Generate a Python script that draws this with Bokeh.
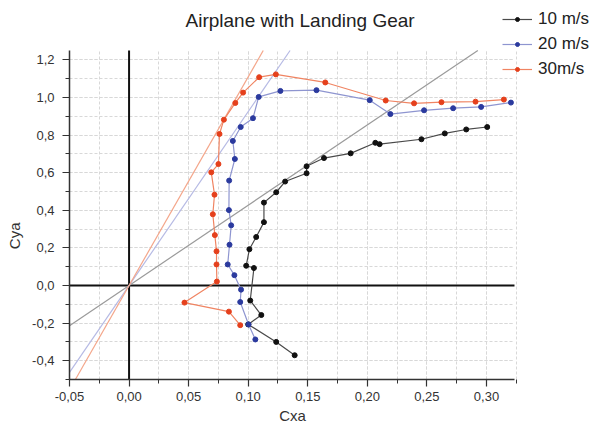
import numpy as np
from bokeh.plotting import figure
from bokeh.models import (FixedTicker, CustomJSTickFormatter, Legend, LegendItem,
                          Range1d, Label)
from bokeh.embed import file_html
from bokeh.resources import INLINE

# ---- data ----
cxa_10 = [0.139, 0.1235, 0.100, 0.111, 0.1017, 0.1048, 0.0983, 0.101, 0.1067, 0.1132,
          0.1132, 0.1235, 0.131, 0.149, 0.149, 0.1636, 0.186, 0.2067, 0.2103, 0.2454,
          0.265, 0.283, 0.3006]
cya_10 = [-0.371, -0.300, -0.207, -0.157, -0.080, 0.093, 0.105, 0.193, 0.258, 0.337,
          0.441, 0.496, 0.553, 0.597, 0.634, 0.678, 0.703, 0.759, 0.752, 0.778,
          0.809, 0.830, 0.843]

cxa_20 = [0.106, 0.1003, 0.0933, 0.094, 0.0884, 0.0828, 0.0843, 0.0857, 0.0838, 0.084,
          0.0888, 0.0871, 0.0937, 0.104, 0.1088, 0.127, 0.1573, 0.202, 0.2193, 0.2476,
          0.272, 0.2955, 0.3205]
cya_20 = [-0.287, -0.207, -0.088, -0.022, 0.055, 0.112, 0.217, 0.320, 0.401, 0.558,
          0.673, 0.769, 0.843, 0.890, 1.003, 1.035, 1.039, 0.986, 0.912, 0.932,
          0.943, 0.950, 0.973]

cxa_30 = [0.0933, 0.0838, 0.0465, 0.0737, 0.0734, 0.0734, 0.072, 0.0703, 0.0717, 0.069,
          0.075, 0.0759, 0.0796, 0.0892, 0.0957, 0.1092, 0.1232, 0.1647, 0.2154, 0.2392,
          0.2622, 0.2908, 0.3146]
cya_30 = [-0.211, -0.139, -0.091, 0.021, 0.112, 0.182, 0.268, 0.379, 0.483, 0.602,
          0.646, 0.806, 0.882, 0.971, 1.026, 1.108, 1.123, 1.080, 0.984, 0.969,
          0.975, 0.978, 0.989]

series_names = ["10 m/s", "20 m/s", "30m/s"]
tangent_slopes = [4.27, 9.25, 11.1]
title_text = "Airplane with Landing Gear"
x_label = "Cxa"
y_label = "Cya"

x_ticks = [-0.05, 0.0, 0.05, 0.10, 0.15, 0.20, 0.25, 0.30]
x_minor = [-0.05, -0.025, 0.0, 0.025, 0.05, 0.075, 0.10, 0.125, 0.15, 0.175, 0.20,
           0.225, 0.25, 0.275, 0.30, 0.325]
y_ticks = [-0.4, -0.2, 0.0, 0.2, 0.4, 0.6, 0.8, 1.0, 1.2]
y_minor = [-0.5, -0.4, -0.3, -0.2, -0.1, 0.0, 0.1, 0.2, 0.3, 0.4, 0.5, 0.6, 0.7, 0.8,
           0.9, 1.0, 1.1, 1.2]

# axis extents (drawn part) and full view (room for title / legend)
x_lo, x_hi = -0.05, 0.3235
y_lo, y_hi = -0.5, 1.25
x_view_hi = 0.3873
y_view_hi = 1.516

# ---- styles ----
marker_colors = ["#111111", "#2b3a9e", "#e5401c"]
line_colors = ["#4a4a4a", "#8e95d0", "#f08462"]
tangent_colors = ["#9a9a9a", "#b6bae4", "#f4a68a"]
FONT = "Liberation Sans"
NBSP = "\u00a0"

p = figure(width=590, height=427, output_backend="svg", toolbar_location=None,
           x_range=Range1d(x_lo, x_view_hi), y_range=Range1d(y_lo, y_view_hi),
           min_border_left=69, min_border_right=0, min_border_top=0,
           min_border_bottom=48)
p.outline_line_color = None
p.background_fill_color = "white"
p.border_fill_color = "white"

# axes
p.xaxis.ticker = FixedTicker(ticks=x_ticks, minor_ticks=x_minor)
p.yaxis.ticker = FixedTicker(ticks=y_ticks, minor_ticks=y_minor)
p.xaxis.bounds = (x_lo, x_hi)
p.yaxis.bounds = (y_lo, y_hi)
p.xaxis.formatter = CustomJSTickFormatter(code="return tick.toFixed(2).replace('.', ',');")
p.yaxis.formatter = CustomJSTickFormatter(code="return tick.toFixed(1).replace('.', ',');")
for ax in (p.xaxis, p.yaxis):
    ax.axis_line_color = "#333333"
    ax.axis_line_width = 1.5
    ax.major_tick_line_color = "#333333"
    ax.minor_tick_line_color = "#333333"
    ax.major_tick_line_width = 1.2
    ax.major_tick_in = 0
    ax.major_tick_out = 7
    ax.minor_tick_in = 0
    ax.minor_tick_out = 4
    ax.major_label_text_font = FONT
    ax.major_label_text_font_size = "13px"
    ax.major_label_text_color = "#333333"
    ax.axis_label_text_font = FONT
    ax.axis_label_text_font_size = "15px"
    ax.axis_label_text_font_style = "normal"
    ax.axis_label_text_color = "#333333"
# axis labels are centred on the full view; pad them so they sit under the drawn axes
p.xaxis.axis_label = x_label + NBSP * 18
p.yaxis.axis_label = y_label + NBSP * 22
p.xaxis.major_label_standoff = 5
p.yaxis.major_label_standoff = 8
p.xaxis.axis_label_standoff = 3
p.yaxis.axis_label_standoff = 6

# grid, limited to the axis extents
p.xgrid.bounds = (x_lo, x_hi)
p.xgrid.cross_bounds = (y_lo, y_hi)
p.ygrid.bounds = (y_lo, y_hi)
p.ygrid.cross_bounds = (x_lo, x_hi)
for g in (p.xgrid, p.ygrid):
    g.grid_line_color = "#d8d8d8"
    g.grid_line_dash = "3 2"
    g.grid_line_width = 1
    g.minor_grid_line_color = "#d8d8d8"
    g.minor_grid_line_dash = "3 2"
    g.minor_grid_line_width = 1

# title
p.add_layout(Label(x=116, y=359, x_units="screen", y_units="screen", text=title_text,
                   text_font=FONT, text_font_size="19px", text_color="#222222",
                   text_baseline="alphabetic", text_align="left"))

# zero lines
p.segment(x0=[0, x_lo], y0=[y_lo, 0], x1=[0, x_hi], y1=[y_hi, 0],
          line_color="#111111", line_width=2)

# tangent lines through the origin, clipped to the axis extents
for s, c in zip(tangent_slopes, tangent_colors):
    tx = np.array([max(x_lo, y_lo / s), min(x_hi, y_hi / s)])
    p.line(tx, s * tx, line_color=c, line_width=1.2)

items = []
for xs, ys, name, mc, lc in zip([cxa_10, cxa_20, cxa_30], [cya_10, cya_20, cya_30],
                                series_names, marker_colors, line_colors):
    r1 = p.line(xs, ys, line_color=lc, line_width=1.2)
    r2 = p.scatter(xs, ys, size=5, fill_color=mc, line_color=mc)
    items.append(LegendItem(label=name, renderers=[r1, r2]))

legend = Legend(items=items, location=(433, 300), padding=0, margin=0, spacing=5,
                glyph_width=30, glyph_height=10, label_height=20, label_standoff=6,
                label_text_font=FONT, label_text_font_size="17px",
                label_text_color="#222222", border_line_color=None,
                background_fill_alpha=0)
p.add_layout(legend, "center")

open("out.html", "w").write(file_html(p, INLINE))
